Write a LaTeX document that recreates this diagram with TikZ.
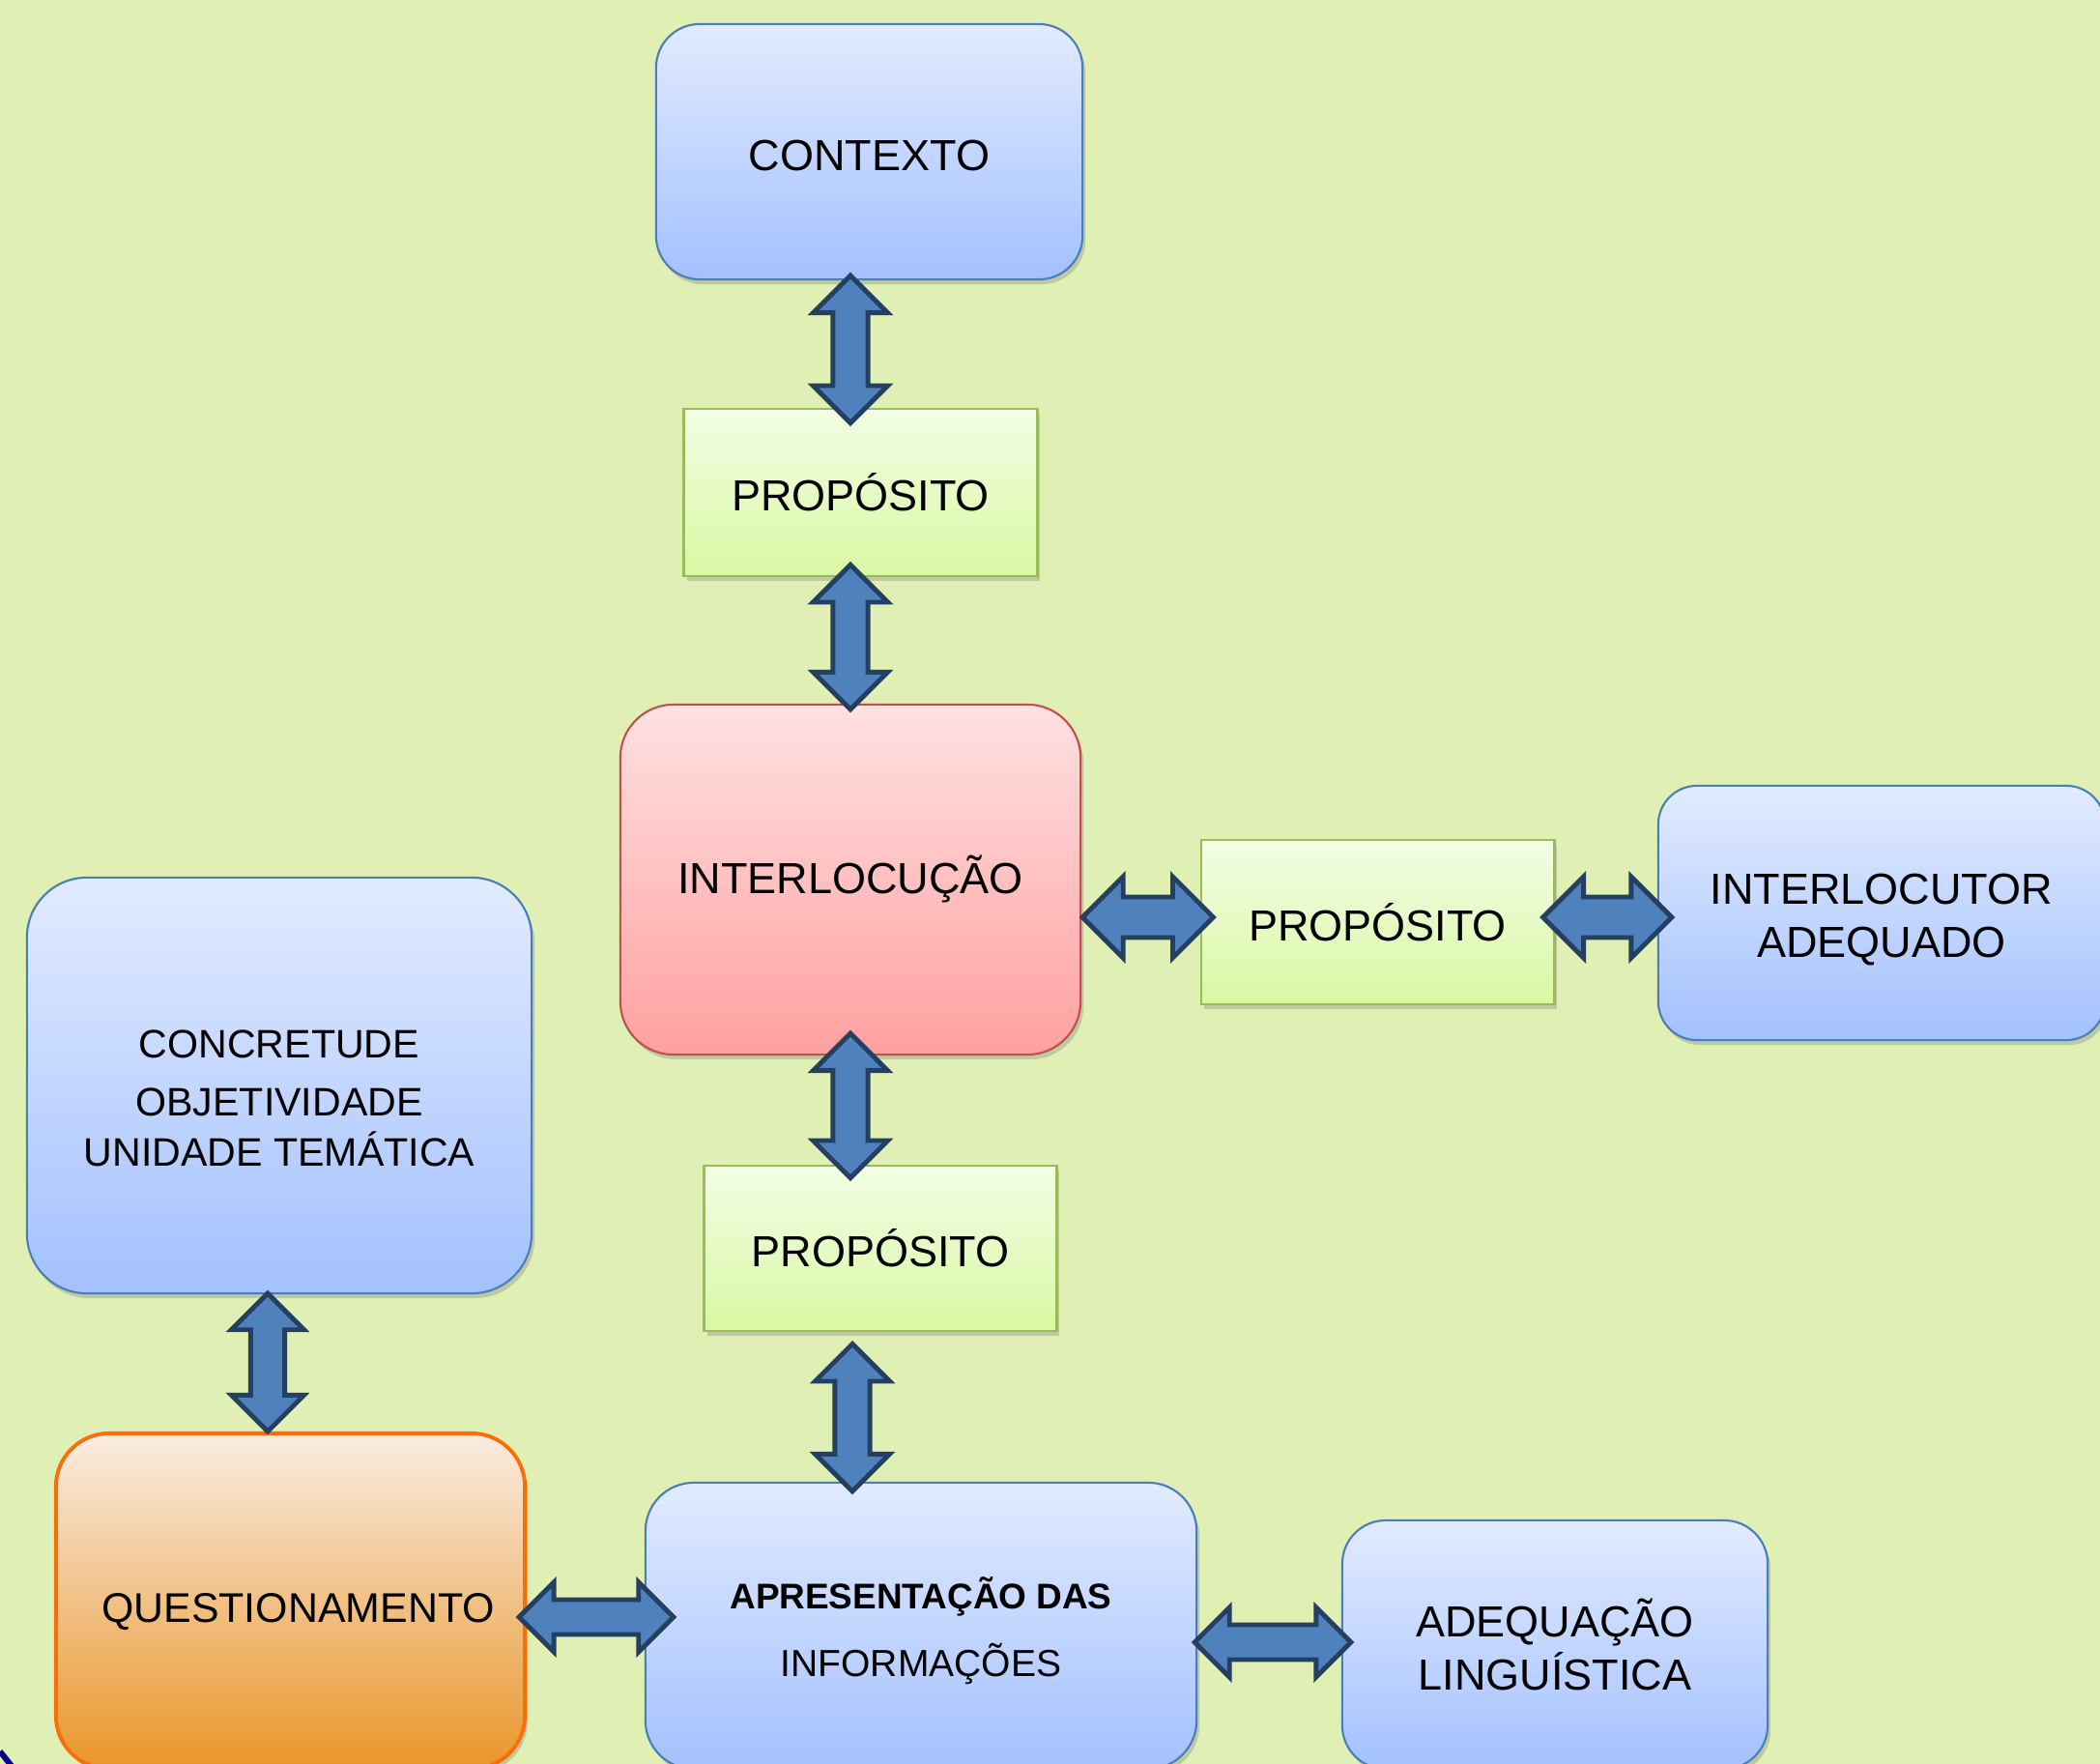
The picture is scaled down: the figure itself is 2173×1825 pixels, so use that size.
\documentclass[tikz,border=0pt]{standalone}
\usepackage{fontspec}
\setmainfont{Liberation Sans}
\usetikzlibrary{calc}
\usetikzlibrary{shadows}

\definecolor{bgcol}{RGB}{224,239,180}
\definecolor{bluetop}{RGB}{226,235,255}
\definecolor{bluebot}{RGB}{163,193,255}
\definecolor{blueline}{RGB}{74,126,187}
\definecolor{greentop}{RGB}{243,253,230}
\definecolor{greenbot}{RGB}{217,248,163}
\definecolor{greenline}{RGB}{155,187,89}
\definecolor{redtop}{RGB}{255,225,225}
\definecolor{redbot}{RGB}{255,160,160}
\definecolor{redline}{RGB}{192,80,77}
\definecolor{orangetop}{RGB}{250,236,226}
\definecolor{orangebot}{RGB}{233,150,42}
\definecolor{orangeline}{RGB}{250,110,10}
\definecolor{arrowfill}{RGB}{79,129,189}
\definecolor{arrowline}{RGB}{36,63,96}
\definecolor{navyline}{RGB}{0,0,140}

\newcommand{\boxfont}{\fontsize{12.8pt}{15.65pt}\selectfont}

\tikzset{
  box/.style      = {shape=rectangle, draw, align=center, inner sep=0pt,
                     font=\boxfont,
                     drop shadow={shadow xshift=0.3mm, shadow yshift=-0.5mm, opacity=0.35}},
  bluebox/.style  = {box, draw=blueline, line width=0.6pt,
                     top color=bluetop, bottom color=bluebot},
  propbox/.style  = {box, draw=greenline, line width=0.8pt,
                     top color=greentop, bottom color=greenbot,
                     minimum width=3.65cm, minimum height=1.72cm},
  redbox/.style   = {box, draw=redline, line width=0.6pt,
                     top color=redtop, bottom color=redbot},
  orangebox/.style= {box, draw=orangeline, line width=1.1pt,
                     top color=orangetop, bottom color=orangebot},
  dblarrow/.style = {draw=arrowline, fill=arrowfill, line width=1.4pt, line join=miter}
}

% double block arrow, top tip #2, bottom tip #3
\newcommand{\varrow}[3][0.385]{%
  \draw[dblarrow] let \p1=(#2), \p2=(#3) in
    (\x1,\y1) -- (\x1+#1cm,\y1-#1cm) -- (\x1+0.47*#1cm,\y1-#1cm)
    -- (\x1+0.47*#1cm,\y2+#1cm) -- (\x1+#1cm,\y2+#1cm) -- (\x1,\y2)
    -- (\x1-#1cm,\y2+#1cm) -- (\x1-0.47*#1cm,\y2+#1cm)
    -- (\x1-0.47*#1cm,\y1-#1cm) -- (\x1-#1cm,\y1-#1cm) -- cycle;}
% double block arrow, left tip #2, right tip #3
\newcommand{\harrow}[3][0.42]{%
  \draw[dblarrow] let \p1=(#2), \p2=(#3) in
    (\x1,\y1) -- (\x1+#1cm,\y1+#1cm) -- (\x1+#1cm,\y1+0.5*#1cm)
    -- (\x2-#1cm,\y1+0.5*#1cm) -- (\x2-#1cm,\y1+#1cm) -- (\x2,\y1)
    -- (\x2-#1cm,\y1-#1cm) -- (\x2-#1cm,\y1-0.5*#1cm)
    -- (\x1+#1cm,\y1-0.5*#1cm) -- (\x1+#1cm,\y1-#1cm) -- cycle;}

\begin{document}
\begin{tikzpicture}[x=0.01cm, y=-0.01cm]
  \useasboundingbox (0,0) rectangle (2173,1825);
  \fill[bgcol] (0,0) rectangle (2173,1825);

  \node [bluebox, rounded corners=0.45cm, minimum width=4.41cm, minimum height=2.64cm]
        (ctx) at (899.5,157) {\rule{0pt}{0.40cm}CONTEXTO};
  \node [propbox, minimum height=1.73cm] (prop1) at (890.5,509.5) {PROPÓSITO};
  \node [redbox, rounded corners=0.55cm, minimum width=4.76cm, minimum height=3.62cm]
        (int) at (880,910) {INTERLOCUÇÃO};
  \node [propbox, minimum height=1.70cm] (prop2) at (1425.5,954) {PROPÓSITO};
  \node [bluebox, rounded corners=0.4cm, minimum width=4.62cm, minimum height=2.63cm]
        (intad) at (1947,944.5) {\rule{0pt}{0.46cm}INTERLOCUTOR\\ADEQUADO};
  \node [bluebox, rounded corners=0.62cm, minimum width=5.22cm, minimum height=4.30cm,
         font=\fontsize{11.7pt}{14.8pt}\selectfont]
        (conc) at (289,1123) {\rule{0pt}{0.55cm}CONCRETUDE\\[0.08cm]OBJETIVIDADE\\UNIDADE TEMÁTICA};
  \node [propbox, minimum width=3.64cm, minimum height=1.71cm] (prop3) at (911,1291.5) {PROPÓSITO};
  \node [orangebox, rounded corners=0.55cm, minimum width=4.85cm, minimum height=3.47cm,
         font=\fontsize{12.2pt}{15pt}\selectfont]
        (quest) at (300.5,1656.5) {\hspace*{0.16cm}\rule{0pt}{0.52cm}QUESTIONAMENTO};
  \node [bluebox, rounded corners=0.5cm, minimum width=5.70cm, minimum height=2.96cm,
         font=\fontsize{11.1pt}{19.9pt}\selectfont]
        (apr) at (953,1682) {\rule{0pt}{0.43cm}{\fontsize{10.5pt}{19.9pt}\selectfont\bfseries APRESENTAÇÃO DAS}\\INFORMAÇÕES};
  \node [bluebox, rounded corners=0.45cm, minimum width=4.40cm, minimum height=2.57cm]
        (adq) at (1609,1701.5) {ADEQUAÇÃO\\LINGUÍSTICA};

  \varrow{$(ctx.south -| int.center)+(0,-5)$}{$(prop1.north -| int.center)+(0,16)$}
  \varrow{$(prop1.south -| int.center)+(0,-13)$}{$(int.north)+(0,6)$}
  \varrow{$(int.south)+(0,-23)$}{$(prop3.north -| int.center)+(0,14)$}
  \varrow{$(prop3.south -| int.center)+(2,12)$}{$(apr.north -| int.center)+(2,10)$}
  \varrow[0.375]{$(conc.south)+(-12,-1)$}{$(quest.north)+(-23.5,0)$}
  \harrow{$(int.east |- prop2.west)+(1,-5)$}{$(prop2.west)+(14,-5)$}
  \harrow{$(prop2.east)+(-13,-5)$}{$(intad.west |- prop2.east)+(15,-5)$}
  \harrow[0.36]{$(quest.east |- apr.west)+(-8,-9)$}{$(apr.west)+(30,-9)$}
  \harrow[0.36]{$(apr.east |- adq.west)+(-3,-2.5)$}{$(adq.west)+(10,-2.5)$}

  \draw[navyline, line width=0.06cm] (0,1812) -- (12,1827);
\end{tikzpicture}
\end{document}
